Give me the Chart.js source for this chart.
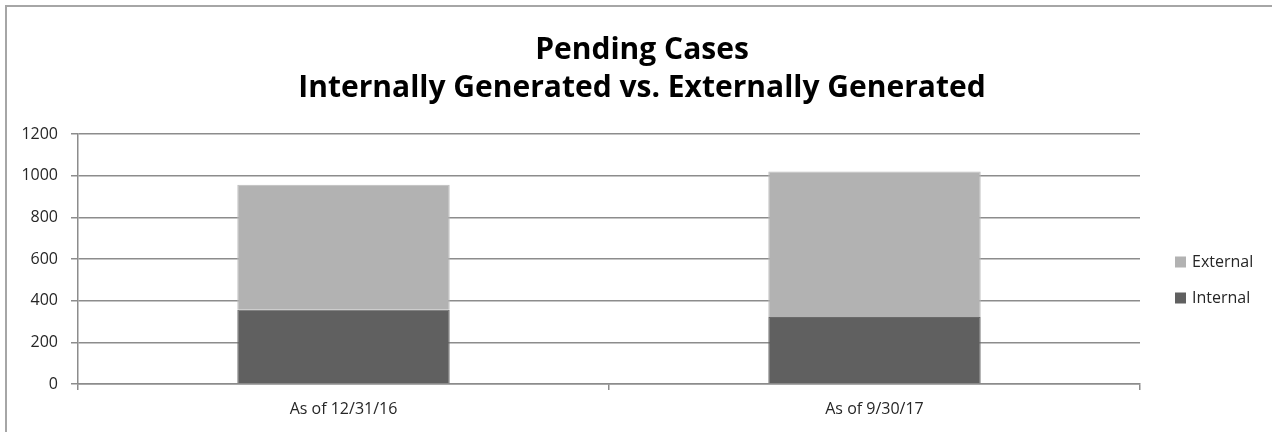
<!DOCTYPE html>
<html>
<head>
<meta charset="utf-8">
<script src="https://cdn.jsdelivr.net/npm/chart.js@4/dist/chart.umd.min.js"></script>
<style>
  html, body { margin: 0; padding: 0; background: #ffffff; overflow: hidden; }
  #wrap { position: relative; width: 1272px; height: 432px; }
  #frame { position: absolute; left: 5px; top: 5px; width: 1300px; height: 460px; border: 2px solid #a6a6a6; box-sizing: border-box; pointer-events: none; }
  canvas { position: absolute; left: 0; top: 0; }
</style>
</head>
<body>
<div id="wrap">
  <canvas id="c" width="1272" height="432"></canvas>
  <div id="frame"></div>
</div>
<script>
const titleLines = ["Pending Cases", "Internally Generated vs. Externally Generated"];
const categories = ["As of 12/31/16", "As of 9/30/17"];
const internalValues = [357, 322];
const externalValues = [600, 698];
const yTicks = [0, 200, 400, 600, 800, 1000, 1200];

const FONT = "'Open Sans', 'DejaVu Sans', sans-serif";

const sideLegend = {
  id: 'sideLegend',
  afterDraw(chart) {
    const ctx = chart.ctx;
    const area = chart.chartArea;
    const items = chart.data.datasets.slice().reverse();
    const midY = (area.top + area.bottom) / 2 + 21;
    const gap = 36;
    const startY = midY - gap * (items.length - 1) / 2;
    ctx.save();
    ctx.font = "16px " + FONT;
    ctx.textBaseline = 'middle';
    ctx.textAlign = 'left';
    items.forEach((ds, i) => {
      const y = startY + i * gap;
      const bx = area.right + 35;
      ctx.fillStyle = ds.backgroundColor;
      ctx.fillRect(bx, y - 5.5, 11, 11);
      ctx.fillStyle = '#262626';
      ctx.fillText(ds.label, bx + 17, y);
    });
    ctx.restore();
  }
};

new Chart(document.getElementById('c'), {
  type: 'bar',
  data: {
    labels: categories,
    datasets: [
      { label: 'Internal', data: internalValues, backgroundColor: '#606060', borderColor: '#6a6a6a', borderWidth: 1, barPercentage: 0.4, categoryPercentage: 1.0 },
      { label: 'External', data: externalValues, backgroundColor: '#b2b2b2', borderColor: '#bcbcbc', borderWidth: 1, barPercentage: 0.4, categoryPercentage: 1.0 }
    ]
  },
  plugins: [sideLegend],
  options: {
    responsive: false,
    animation: false,
    devicePixelRatio: 1,
    layout: { padding: { left: 12, right: 0, top: 0, bottom: 0 } },
    plugins: {
      title: {
        display: true,
        text: titleLines,
        color: '#000000',
        font: { family: FONT, size: 30, weight: 'bold', lineHeight: 1.2667 },
        padding: { top: 31, bottom: 27 }
      },
      legend: { display: false },
      tooltip: { enabled: false }
    },
    scales: {
      x: {
        stacked: true,
        offset: true,
        afterFit: (s) => { s.height = 48; },
        grid: { display: true, offset: true, drawOnChartArea: false, drawTicks: true, tickLength: 6, color: '#8c8c8c', lineWidth: 1.5 },
        border: { display: true, color: '#8c8c8c', width: 1.5 },
        ticks: { color: '#262626', font: { family: FONT, size: 16 }, padding: 10 }
      },
      y: {
        stacked: true,
        min: 0,
        max: 1200,
        afterFit: (s) => { s.width = 66; },
        afterBuildTicks: (axis) => { axis.ticks = yTicks.map(v => ({ value: v })); },
        grid: { color: '#8c8c8c', lineWidth: 1.5, drawTicks: true, tickLength: 7 },
        border: { display: true, color: '#8c8c8c', width: 1.5 },
        ticks: { color: '#262626', font: { family: FONT, size: 16 }, padding: 13, callback: (v) => String(v) }
      },
      yRightSpace: {
        position: 'right',
        display: true,
        min: 0,
        max: 1200,
        afterFit: (s) => { s.width = 132; },
        grid: { display: false },
        border: { display: false },
        ticks: { display: false }
      }
    }
  }
});
</script>
</body>
</html>
